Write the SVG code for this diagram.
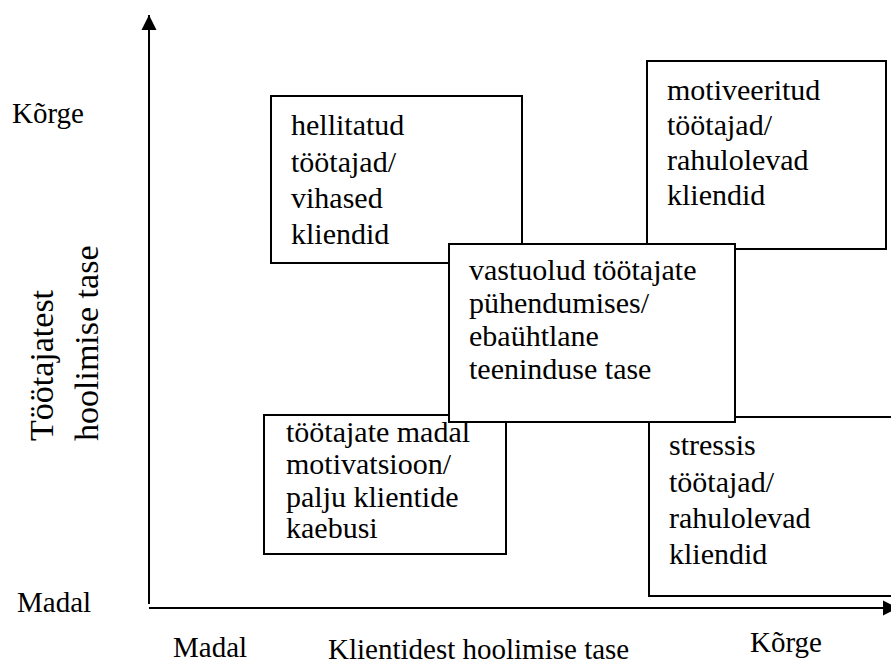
<svg xmlns="http://www.w3.org/2000/svg" width="891" height="664" viewBox="0 0 891 664">
<style>
text{font-family:"Liberation Serif","Times New Roman",serif;font-size:29px;fill:#000}
.box{fill:#fff;stroke:#000;stroke-width:2}
.box + text, g text.t{font-size:30px}
.ax{stroke:#000;stroke-width:2;fill:none}
</style>
<defs>
<marker id="ah2" markerWidth="16" markerHeight="16" refX="15" refY="8" orient="auto" markerUnits="userSpaceOnUse">
<path d="M0,0.5 L15,8 L0,15.5 Z" fill="#000"/>
</marker>
</defs>
<g id="connectors">
<line class="ax" x1="149" y1="604" x2="149" y2="15" marker-end="url(#ah2)"/>
<line class="ax" x1="149" y1="608" x2="898" y2="608" marker-end="url(#ah2)"/>
</g>
<g id="labels">
<text x="12" y="123">Kõrge</text>
<text x="17" y="612">Madal</text>
<text x="173" y="657">Madal</text>
<text x="328" y="659">Klientidest hoolimise tase</text>
<text x="750" y="652">Kõrge</text>
<text transform="translate(53,441) rotate(-90)" style="font-size:34px">Töötajatest</text>
<text transform="translate(98,441) rotate(-90)" style="font-size:34px">hoolimise tase</text>
</g>
<g id="n-hellitatud">
<rect class="box" x="271" y="96" width="251" height="167"/>
<text class="t" x="291" y="135">hellitatud</text>
<text class="t" x="291" y="172">töötajad/</text>
<text class="t" x="291" y="208">vihased</text>
<text class="t" x="291" y="244">kliendid</text>
</g>
<g id="n-motiveeritud">
<rect class="box" x="647" y="61" width="239" height="188"/>
<text class="t" x="667" y="100">motiveeritud</text>
<text class="t" x="667" y="135">töötajad/</text>
<text class="t" x="667" y="170">rahulolevad</text>
<text class="t" x="667" y="205">kliendid</text>
</g>
<g id="n-madal">
<rect class="box" x="264" y="415" width="242" height="139"/>
<text class="t" x="286" y="442">töötajate madal</text>
<text class="t" x="286" y="474">motivatsioon/</text>
<text class="t" x="286" y="507">palju klientide</text>
<text class="t" x="286" y="538">kaebusi</text>
</g>
<g id="n-stressis">
<rect class="box" x="649" y="417" width="250" height="179"/>
<text class="t" x="669" y="455">stressis</text>
<text class="t" x="669" y="492">töötajad/</text>
<text class="t" x="669" y="528">rahulolevad</text>
<text class="t" x="669" y="564">kliendid</text>
</g>
<g id="n-vastuolud">
<rect class="box" x="449" y="244" width="286" height="178"/>
<text class="t" x="469" y="280">vastuolud töötajate</text>
<text class="t" x="469" y="313">pühendumises/</text>
<text class="t" x="469" y="346">ebaühtlane</text>
<text class="t" x="469" y="379">teeninduse tase</text>
</g>
</svg>
